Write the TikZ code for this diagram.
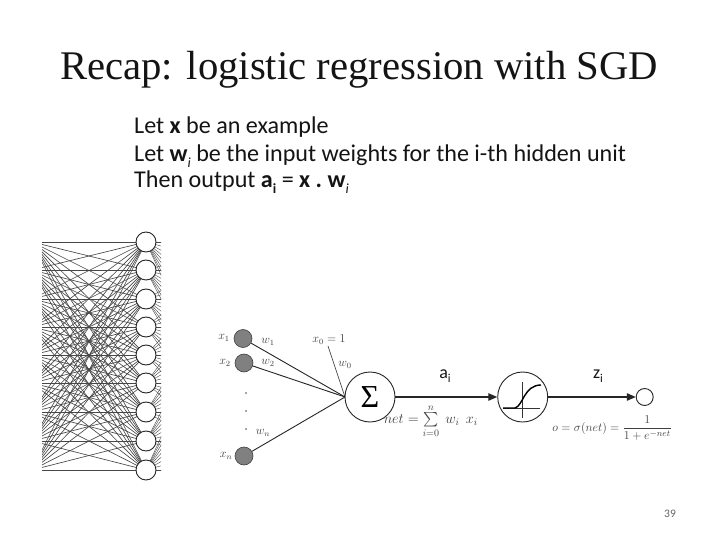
\documentclass[tikz,border=0pt]{standalone}
\usepackage{amsmath}
\usepackage{fontspec}
\setmainfont{Carlito}
\newfontfamily\titlefont{Liberation Serif}
\usetikzlibrary{arrows.meta}
\newcommand{\subtxt}[1]{\raisebox{-0.22em}{\fontsize{14}{14}\selectfont #1}}
\definecolor{netline}{gray}{0.28}
\definecolor{bodyink}{gray}{0.08}
\tikzset{
  bodytext/.style={anchor=base west,inner sep=0pt,font=\fontsize{24.1}{27}\selectfont,text=bodyink},
  smalllabel/.style={inner sep=0pt,font=\fontsize{18}{18}\selectfont,text=bodyink},
  mathlabel/.style={inner sep=0pt,text=black!75,font=\fontsize{12}{12}\selectfont},
  netedge/.style={draw=netline,line width=0.65pt},
  unit/.style={circle,draw=black!85,fill=white,line width=0.9pt,minimum size=20pt,inner sep=0pt},
  inunit/.style={circle,draw=black!75,fill=black!50,line width=0.6pt,minimum size=18pt,inner sep=0pt},
  wire/.style={draw=black!85,line width=0.9pt},
  flow/.style={draw=black!85,line width=1.2pt,-{Triangle[length=9pt,width=7.5pt]}},
  ball/.style={circle,draw=black!85,fill=white,line width=0.9pt,inner sep=0pt}
}
\begin{document}
\begin{tikzpicture}[x=1pt,y=-1pt]
\useasboundingbox (0,0) rectangle (720,540);
\fill[white] (0,0) rectangle (720,540);
\node[anchor=base west,inner sep=0pt,font=\titlefont\fontsize{40.7}{42}\selectfont,text=bodyink] (title) at (60,80) {Recap: logistic regression with SGD};
\node[bodytext] (l1) at (134,134) {Let \textbf{x} be an example};
\node[bodytext] (l2) at (134,162) {Let \textbf{w}\subtxt{\textit{i}} be the input weights for the i-th hidden unit};
\node[bodytext] (l3) at (134,188) {Then output \textbf{a}\subtxt{\textbf{i}} = \textbf{x .\ w}\subtxt{\textit{i}}};
% dense network: left layer lies beyond the crop at x=42
\foreach \i/\yy in {1/242,2/270,3/299,4/327,5/355,6/383,7/412,8/441,9/470}{
  \coordinate (L\i) at (32,\yy);
  \coordinate (R\i) at (146,\yy);
}
\begin{scope}
\clip (42,225) rectangle (146,485);
\foreach \i in {1,...,9}{\foreach \j in {1,...,9}{
  \path[netedge] (L\i) -- (R\j);
}}
\end{scope}
\begin{scope}
\clip (146,225) rectangle (161,485);
\foreach \i in {1,...,9}{
 \foreach \j/\zz in {1/242,2/270,3/299,4/327,5/355,6/383,7/412,8/441,9/470}{
  \coordinate (S\i\j) at (250,\zz);
  \path[draw=netline,line width=0.4pt] (R\i) -- (S\i\j);
 }}
\end{scope}
\foreach \i/\yy in {1/242,2/270,3/299,4/327,5/355,6/383,7/412,8/441,9/470}{
  \node[unit] (U\i) at (146,\yy) {};
}
% neuron
\coordinate (conv) at (345,397);
\node[inunit] (x1) at (243,338.5) {};
\node[inunit] (x2) at (244,363) {};
\node[inunit] (xn) at (244,456) {};
\coordinate (x0) at (328,346);
\foreach \s in {x1,x2,xn}{\path[wire] (\s) -- (conv);}
\path[wire,line width=0.6pt] (x0) -- (conv);
\node[ball,minimum size=50pt,font=\titlefont\fontsize{32}{32}\selectfont] (sig) at (370,397) {Σ};
\node[ball,minimum size=50pt] (act) at (522.7,397) {};
\node[ball,minimum size=17pt] (out) at (644.7,397) {};
\path[flow] (sig) -- (act);
\path[flow] (act) -- (out);
% sigmoid
\coordinate (hl) at (503,408);
\coordinate (hr) at (540,408);
\coordinate (vt) at (522.7,382);
\coordinate (vb) at (522.7,418);
\path[draw=black!80,line width=0.5pt] (hl) -- (hr);
\path[draw=black!80,line width=0.5pt] (vt) -- (vb);
\coordinate (cs) at (503,408);
\coordinate (cm) at (515,408);
\coordinate (ce) at (541,385);
\path[draw=black,line width=1.4pt] (cs) -- (cm) .. controls (523,406) and (524,385) .. (ce);
% labels
\node[mathlabel] (tx1) at (224,338) {$x_1$};
\node[mathlabel] (tx2) at (225,363) {$x_2$};
\node[mathlabel] (txn) at (226,456) {$x_n$};
\node[mathlabel] (tw1) at (268,342) {$w_1$};
\node[mathlabel] (tw2) at (268,363) {$w_2$};
\node[mathlabel] (twn) at (263,433) {$w_n$};
\node[mathlabel] (tw0) at (345,365) {$w_0$};
\node[mathlabel] (tx0) at (329,340) {$x_0 = 1$};
\node[circle,fill=black!70,inner sep=0.7pt] (d1) at (246,393) {};
\node[circle,fill=black!70,inner sep=0.7pt] (d2) at (246,411) {};
\node[circle,fill=black!70,inner sep=0.7pt] (d3) at (246,429) {};
\node[smalllabel] (ai) at (445,376) {a\subtxt{\fontsize{12}{12}\selectfont i}};
\node[smalllabel] (zi) at (598,376) {z\subtxt{\fontsize{12}{12}\selectfont i}};
\node[mathlabel,font=\fontsize{14}{14}\selectfont,anchor=east] (net) at (478,421) {$\mathnormal{net} = \sum\limits_{i=0}^{n} \; w_i\;\, x_i$};
\node[mathlabel,font=\fontsize{13}{13}\selectfont,anchor=east] (sigf) at (672,428) {$o = \sigma(\mathnormal{net}) = \dfrac{1}{1+e^{-\mathnormal{net}}}$};
\node[inner sep=0pt,font=\fontsize{11.5}{12}\selectfont,text=black!60] (pg) at (670,514) {39};
\end{tikzpicture}
\end{document}
